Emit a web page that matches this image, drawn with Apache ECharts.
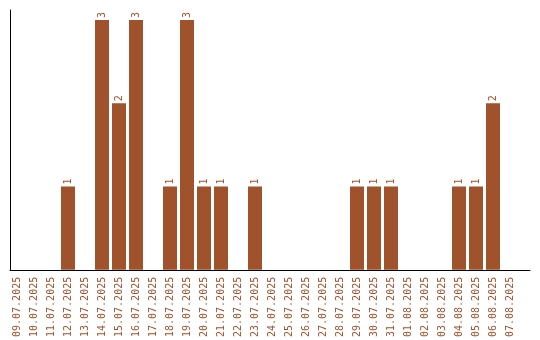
<!DOCTYPE html>
<html><head><meta charset="utf-8">
<script src="https://cdn.jsdelivr.net/npm/echarts@6/dist/echarts.min.js"></script>
<style>html,body{margin:0;padding:0;background:#fff}#c{width:540px;height:340px}</style>
</head><body><div id="c"></div>
<script>
const categories = ["09.07.2025","10.07.2025","11.07.2025","12.07.2025","13.07.2025","14.07.2025","15.07.2025","16.07.2025","17.07.2025","18.07.2025","19.07.2025","20.07.2025","21.07.2025","22.07.2025","23.07.2025","24.07.2025","25.07.2025","26.07.2025","27.07.2025","28.07.2025","29.07.2025","30.07.2025","31.07.2025","01.08.2025","02.08.2025","03.08.2025","04.08.2025","05.08.2025","06.08.2025","07.08.2025"];
const counts = [0,0,0,1,0,3,2,3,0,1,3,1,1,0,1,0,0,0,0,0,1,1,1,0,0,0,1,1,2,0];
const color = '#A0522D';
const font = 'DejaVu Sans Mono';
const chart = echarts.init(document.getElementById('c'));
chart.setOption({
  animation: false,
  grid: [
    {left: 10, right: 10, top: 10, bottom: 70},
    {left: 8.5, width: 510, top: 10, bottom: 70}
  ],
  xAxis: [
    {gridIndex: 0, type: 'value', min: 0, max: 1, axisLine: {show: true, lineStyle: {color: '#000', width: 1}}, axisTick: {show: false}, axisLabel: {show: false}, splitLine: {show: false}},
    {gridIndex: 1, type: 'category', data: categories, axisLine: {show: false}, axisTick: {show: false},
     axisLabel: {rotate: 90, interval: 0, color: color, fontFamily: font, fontSize: 10, margin: 7}}
  ],
  yAxis: [
    {gridIndex: 0, type: 'value', min: 0, max: 1, axisLine: {show: true, lineStyle: {color: '#000', width: 1}}, axisTick: {show: false}, axisLabel: {show: false}, splitLine: {show: false}},
    {gridIndex: 1, type: 'value', min: 0, max: 3.12, axisLine: {show: false}, axisTick: {show: false}, axisLabel: {show: false}, splitLine: {show: false}}
  ],
  series: [{
    type: 'bar', xAxisIndex: 1, yAxisIndex: 1, barWidth: 14,
    data: counts.map(v => v === 0 ? null : v),
    itemStyle: {color: color},
    label: {show: true, position: 'top', rotate: 90, align: 'left', verticalAlign: 'middle', distance: 2, color: color, fontFamily: font, fontSize: 10}
  }]
});
</script></body></html>
